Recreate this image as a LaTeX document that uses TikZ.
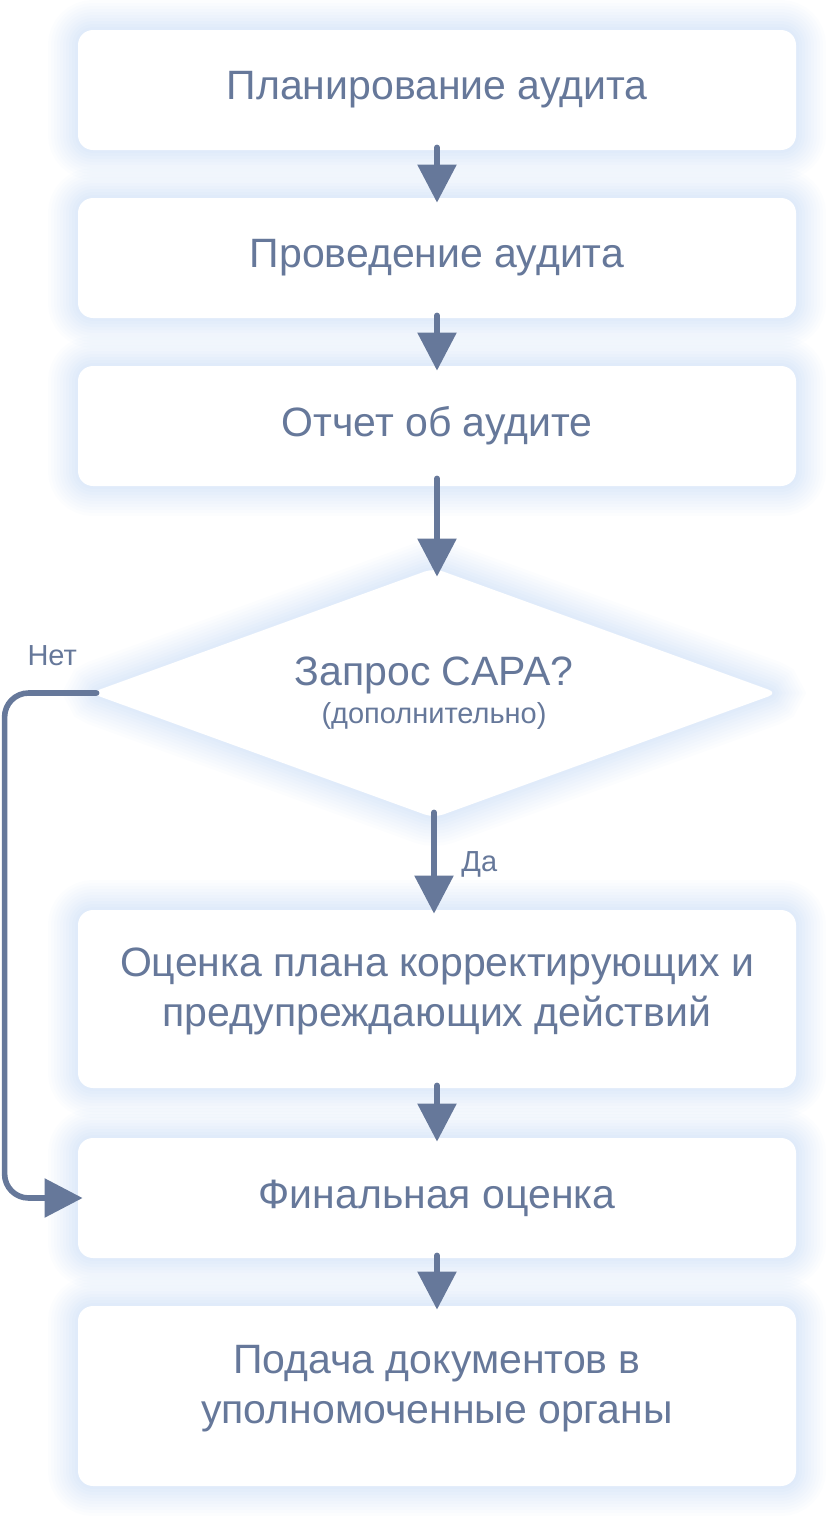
\documentclass[tikz,border=0pt]{standalone}
\usepackage{fontspec}
\setmainfont{Liberation Sans}
\usetikzlibrary{arrows.meta,shapes.geometric}
\definecolor{ink}{RGB}{102,120,154}
\definecolor{glowc}{RGB}{170,200,240}
\newcommand{\lift}{\rule[-12pt]{0pt}{12pt}}
\newcommand{\notefont}{\fontsize{14.5}{17}\selectfont}
\tikzset{
  glow/.style={
    preaction={draw=glowc,line width=30pt,draw opacity=.035},
    preaction={draw=glowc,line width=27pt,draw opacity=.035},
    preaction={draw=glowc,line width=24pt,draw opacity=.04},
    preaction={draw=glowc,line width=21pt,draw opacity=.04},
    preaction={draw=glowc,line width=18pt,draw opacity=.045},
    preaction={draw=glowc,line width=15pt,draw opacity=.045},
    preaction={draw=glowc,line width=12pt,draw opacity=.05},
    preaction={draw=glowc,line width=9pt,draw opacity=.05},
    preaction={draw=glowc,line width=6pt,draw opacity=.05},
    preaction={draw=glowc,line width=3pt,draw opacity=.05}},
  stepbox/.style={glow,fill=white,rounded corners=7.5pt,minimum width=359pt,
    minimum height=60pt,inner sep=0pt,text=ink,align=center,
    font=\fontsize{20.5}{25}\selectfont},
  decision/.style={glow,diamond,aspect=2.75,fill=white,rounded corners=5pt,
    minimum width=344pt,minimum height=125pt,inner sep=0pt,text=ink,
    align=center,font=\fontsize{20.5}{25}\selectfont},
  flow/.style={draw=ink,line width=2.8pt,line cap=round,
    -{Triangle[length=19pt,width=19pt]}},
  note/.style={text=ink,font=\notefont}
}
\begin{document}
\begin{tikzpicture}[x=0.5pt,y=-0.5pt]
                \useasboundingbox (0,0) rectangle (826,1516);
                % steps
                \node[stepbox] (plan) at (437,90) {Планирование аудита};
                \node[stepbox] (audit) at (437,258) {Проведение аудита};
                \node[stepbox] (report) at (437,426) {Отчет об аудите};
                \node[decision] (capa) at (434,693) {Запрос CAPA?\\[-6pt]{\notefont(дополнительно)}};
                \node[stepbox,minimum height=89pt] (eval) at (437,999) {Оценка плана корректирующих и\\предупреждающих действий\lift};
                \node[stepbox] (final) at (437,1198) {Финальная оценка};
                \node[stepbox,minimum height=90pt] (submit) at (437,1396) {Подача документов в\\уполномоченные органы\lift};
                % arrows
                \draw[flow,shorten <=-1.5pt,shorten >=-2.5pt] (plan.south) -- (audit.north);
                \draw[flow,shorten <=-1.5pt,shorten >=-2.5pt] (audit.south) -- (report.north);
                \draw[flow,shorten <=-4pt,shorten >=-4.5pt] (report.south) -- (report.south |- capa.north);
                \draw[flow,shorten <=-3pt,shorten >=-2pt] (capa.south) -- node[note,right=9pt] (yes) {Да} (capa.south |- eval.north);
                \draw[flow,shorten <=-1.5pt,shorten >=-2pt] (eval.south) -- (final.north);
                \draw[flow,shorten <=-1.5pt,shorten >=-2pt] (final.south) -- (submit.north);
                \draw[flow,rounded corners=12pt,shorten <=-3.5pt,shorten >=-2.5pt] (capa.west) -- ++(-85,0) node[note,pos=.44,above=9pt] (no) {Нет} |- (final.west);
            \end{tikzpicture}
\end{document}
